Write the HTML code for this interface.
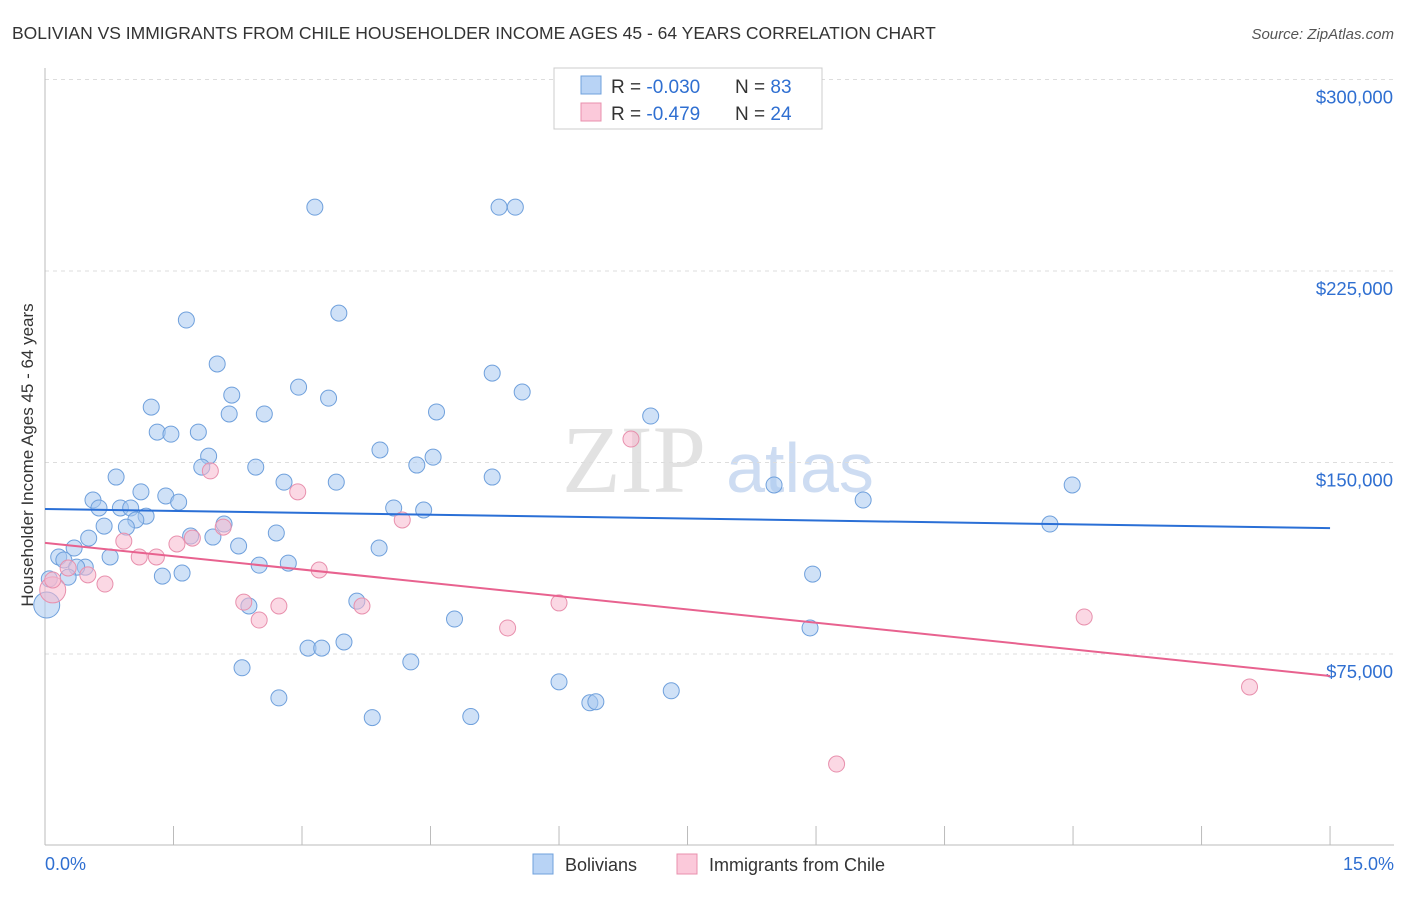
<!DOCTYPE html>
<html><head><meta charset="utf-8"><style>
body{margin:0;background:#fff;font-family:"Liberation Sans",sans-serif}
</style></head><body>
<svg id="c" width="1406" height="892" xmlns="http://www.w3.org/2000/svg">
<text x="12" y="39" font-size="17.5" fill="#333">BOLIVIAN VS IMMIGRANTS FROM CHILE HOUSEHOLDER INCOME AGES 45 - 64 YEARS CORRELATION CHART</text>
<text x="1394" y="39" font-size="15" fill="#555" font-style="italic" text-anchor="end">Source: ZipAtlas.com</text>
<text x="634" y="492" font-size="96" fill="#e2e2e2" font-family="Liberation Serif,serif" text-anchor="middle">ZIP</text>
<text x="800" y="492" font-size="70" fill="#cddcf2" text-anchor="middle">atlas</text>
<text transform="translate(33,455) rotate(-90)" font-size="17" fill="#333" text-anchor="middle">Householder Income Ages 45 - 64 years</text>
<g id="grid"></g><g id="axes"></g><g id="pts"></g><g id="lines"></g>
<g>
<rect x="554" y="68" width="268" height="61" fill="#fff" stroke="#ccc"/>
<rect x="581" y="76" width="20" height="18" fill="#b8d3f5" stroke="#6fa0dc"/>
<rect x="581" y="103" width="20" height="18" fill="#fbc9da" stroke="#e890ad"/>
<text x="611" y="93" font-size="19" fill="#333">R = <tspan fill="#2f6fd1">-0.030</tspan><tspan x="735">N = </tspan><tspan fill="#2f6fd1">83</tspan></text>
<text x="611" y="120" font-size="19" fill="#333">R = <tspan fill="#2f6fd1"> -0.479</tspan><tspan x="735">N = </tspan><tspan fill="#2f6fd1">24</tspan></text>
</g>
<g>
<rect x="533" y="854" width="20" height="20" fill="#b8d3f5" stroke="#6fa0dc"/>
<text x="565" y="871" font-size="18" fill="#333">Bolivians</text>
<rect x="677" y="854" width="20" height="20" fill="#fbc9da" stroke="#e890ad"/>
<text x="709" y="871" font-size="18" fill="#333">Immigrants from Chile</text>
</g>
</svg>
<script>
const yTicks=[75000,150000,225000,300000];
const yTickLabels=["$75,000","$150,000","$225,000","$300,000"];
const xTickLabels=["0.0%","15.0%"];
const blueX=[3.15,5.30,5.49,3.43,1.65,2.01,5.22,5.57,2.18,2.96,1.24,3.31,2.56,2.15,4.57,7.07,1.31,1.47,1.79,3.91,1.91,4.53,4.34,1.83,2.46,0.83,5.22,3.40,2.79,8.51,11.99,1.12,1.41,0.56,1.56,9.55,0.63,0.88,1.00,1.18,4.07,4.42,1.06,0.69,0.95,2.09,2.70,1.70,1.96,11.73,0.51,2.26,3.90,0.34,0.16,0.76,0.22,2.84,2.50,0.47,0.37,0.27,1.60,1.37,0.05,8.96,0.02,2.38,3.64,4.78,8.93,3.07,3.23,3.49,4.27,2.30,6.00,7.31,2.73,6.36,6.43,3.82,4.97];
const blueY=[250.0,250.0,250.0,208.5,205.8,188.6,185.0,177.6,176.4,179.5,171.7,175.2,169.0,169.0,169.8,168.2,161.9,161.1,161.9,154.9,152.5,152.1,149.0,148.2,148.2,144.3,144.3,142.3,142.3,141.2,141.2,138.5,136.9,135.3,134.5,135.3,132.2,132.2,132.2,129.0,132.2,131.4,127.5,125.1,124.7,125.9,122.4,121.2,120.8,125.9,120.4,117.3,116.5,116.5,113.0,113.0,111.8,110.6,109.8,109.0,109.0,105.1,106.7,105.5,104.4,106.3,94.2,93.8,95.7,88.7,85.2,77.3,77.3,79.7,71.9,69.6,64.1,60.6,57.8,55.9,56.3,50.1,50.5];
const pinkX=[0.09,0.09,0.27,0.50,0.70,0.92,1.10,1.30,1.54,1.72,1.93,2.08,2.95,2.32,2.50,2.73,3.20,3.70,4.17,5.40,6.00,6.84,9.24,12.13,14.06];
const pinkY=[100.1,104.0,108.7,106.0,102.4,119.2,113.0,113.0,118.1,120.4,146.7,124.7,138.5,95.3,88.3,93.8,107.9,93.8,127.5,85.2,95.0,159.2,31.9,89.5,62.1];
const blueTrend=[131.8,124.3];
const pinkTrend=[118.5,66.4];
const NS="http://www.w3.org/2000/svg";
const sx=v=>45+v*85.67, sy=k=>845.5-k*1000/75000*191.5;
function mk(t,a,p){const e=document.createElementNS(NS,t);for(const k in a)e.setAttribute(k,a[k]);document.getElementById(p).appendChild(e);return e;}
yTicks.forEach((v,i)=>{
 const g=mk('line',{x1:45,x2:1394,y1:sy(v/1000),y2:sy(v/1000),stroke:'#ddd','stroke-dasharray':'4,4'},'grid');
 
 
 const t=mk('text',{x:1393,y:sy(v/1000)+24,'font-size':18.5,fill:'#2f6fd1','text-anchor':'end'},'axes');
 t.textContent=yTickLabels[i];
 
 
});
mk('line',{x1:45,x2:45,y1:68,y2:845,stroke:'#bbb'},'axes');
mk('line',{x1:45,x2:1394,y1:845,y2:845,stroke:'#bbb'},'axes');
for(let i=0;i<=10;i++){const tk=mk('line',{x1:sx(i*1.5),x2:sx(i*1.5),y1:826,y2:845,stroke:'#bbb'},'axes');
 
 }
[[45,'start'],[1394,'end']].forEach((p,i)=>{const t=mk('text',{x:p[0],y:870,'font-size':18,fill:'#2f6fd1','text-anchor':p[1]},'axes');t.textContent=xTickLabels[i];
 
 });
function pts(X,Y,fill,stroke,name){X.forEach((x,i)=>{const big=(x<0.1&&i===(name==='bolivian-point'?66:0));
 const c=mk('circle',{cx:sx(x),cy:sy(Y[i]),r:big?13:8,fill:fill,'fill-opacity':0.55,stroke:stroke,'stroke-width':1},'pts');
 
 });}
pts(blueX,blueY,'#a8c8f0','#6fa0dc','bolivian-point');
pts(pinkX,pinkY,'#f7b8cd','#e890ad','chile-point');
const bl=mk('line',{x1:sx(0),y1:sy(blueTrend[0]),x2:sx(15),y2:sy(blueTrend[1]),stroke:'#2a6fd6','stroke-width':2},'lines');


const pl=mk('line',{x1:sx(0),y1:sy(pinkTrend[0]),x2:sx(15),y2:sy(pinkTrend[1]),stroke:'#e8628f','stroke-width':2},'lines');


</script>
</body></html>
